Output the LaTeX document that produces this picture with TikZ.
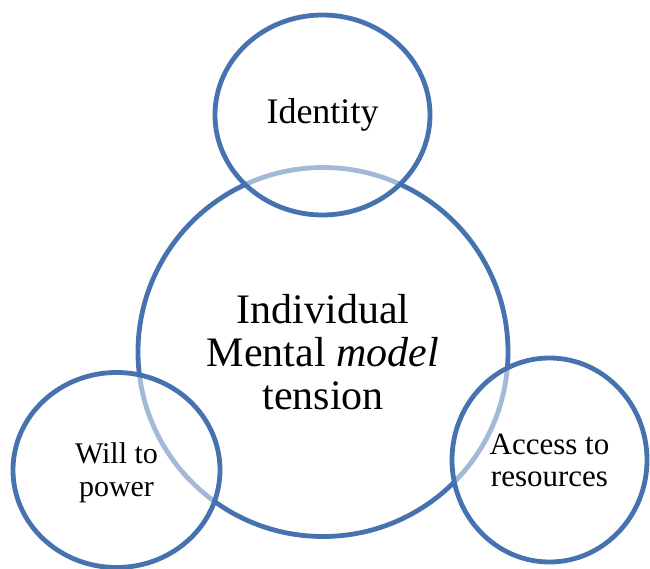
\documentclass[tikz,border=0pt]{standalone}
\usepackage{fontspec}
\setmainfont{Liberation Serif}
\usepackage{xcolor}
\definecolor{ringblue}{RGB}{70,115,176}
\usetikzlibrary{shapes.geometric}
\tikzset{
  ring/.style={ellipse, draw=ringblue, line width=4.8pt, inner sep=0pt, align=center},
  overring/.style={ring, fill=white, fill opacity=0.5, text opacity=1},
}

\begin{document}
\begin{tikzpicture}[x=1pt,y=-1pt]
    \useasboundingbox (0,0) rectangle (650,569);
    % main circle first, the small ones lie over it
    \node[ring, minimum width=370pt, minimum height=369pt,
          font=\fontsize{42}{43}\selectfont] (M) at (323,352)
        {Individual\\Mental \textit{model}\\tension};
    \node[overring, minimum width=215pt, minimum height=200pt,
          font=\fontsize{36}{38}\selectfont] (I) at (322.5,115) {Identity};
    \node[overring, minimum width=207pt, minimum height=195pt,
          font=\fontsize{30}{33}\selectfont] (W) at (116.5,470) {\\[-6pt]Will to\\power};
    \node[overring, minimum width=195pt, minimum height=204pt,
          font=\fontsize{31}{32}\selectfont] (R) at (549.5,460) {Access to\\resources};
\end{tikzpicture}
\end{document}
